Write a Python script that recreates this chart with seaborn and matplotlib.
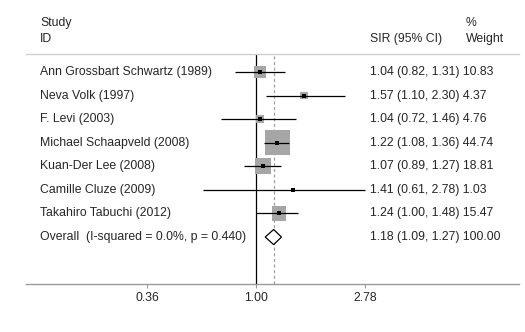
import numpy as np
import pandas as pd
import matplotlib
matplotlib.use("Agg")
import matplotlib.pyplot as plt
import matplotlib.transforms as mtransforms
import seaborn as sns

studies = ["Ann Grossbart Schwartz (1989)", "Neva Volk (1997)", "F. Levi (2003)",
           "Michael Schaapveld (2008)", "Kuan-Der Lee (2008)", "Camille Cluze (2009)",
           "Takahiro Tabuchi (2012)"]
sir = [1.04, 1.57, 1.04, 1.22, 1.07, 1.41, 1.24]
lower = [0.82, 1.10, 0.72, 1.08, 0.89, 0.61, 1.00]
upper = [1.31, 2.30, 1.46, 1.36, 1.27, 2.78, 1.48]
weights = [10.83, 4.37, 4.76, 44.74, 18.81, 1.03, 15.47]
overall_label = "Overall  (I-squared = 0.0%, p = 0.440)"
overall = [1.18, 1.09, 1.27]
overall_weight = "100.00"
xticks = [0.36, 1.00, 2.78]
xticklabels = ["0.36", "1.00", "2.78"]

sns.set_theme(style="white")
plt.rcParams["font.family"] = ["Liberation Sans", "DejaVu Sans"]
FS = 8.8

W, H = 525, 332
fig = plt.figure(figsize=(W / 100, H / 100), dpi=100)
ax = fig.add_axes([26 / W, 1 - 284 / H, (519 - 26) / W, (284 - 54) / H])
ax.set_xscale("log")
ax.set_xlim(0.1154, 11.81)
ax.set_ylim(8.99, -0.76)

df = pd.DataFrame({"study": studies, "sir": sir, "lo": lower, "hi": upper,
                   "w": weights, "row": np.arange(len(studies))})

# weight boxes (area proportional to weight)
sns.scatterplot(data=df, x="sir", y="row", marker="s", s=df["w"].to_numpy() * 7.25,
                color="#a6a6a6", linewidth=0, ax=ax, legend=False, zorder=2)
# CI lines
ax.hlines(df["row"], df["lo"], df["hi"], color="black", linewidth=0.9, zorder=3)
# point estimates
sns.scatterplot(data=df, x="sir", y="row", marker="s", s=6, color="black",
                linewidth=0, ax=ax, legend=False, zorder=4)

# overall diamond
orow = len(studies)
h = 0.32
ax.fill([overall[1], overall[0], overall[2], overall[0]],
        [orow, orow - h, orow, orow + h], facecolor="white", edgecolor="black",
        linewidth=0.9, zorder=5)

# reference lines
ax.axvline(1.0, color="black", linewidth=0.9, zorder=1)
ax.axvline(overall[0], color="#a0a0a0", linewidth=0.9, linestyle=(0, (2.5, 2)), zorder=1)

for s in ["left", "right"]:
    ax.spines[s].set_visible(False)
ax.spines["top"].set_color("#cfcfcf")
ax.spines["bottom"].set_color("#999999")
for s in ["top", "bottom"]:
    ax.spines[s].set_linewidth(1.0)
ax.set_xticks(xticks)
ax.set_xticklabels(xticklabels, fontsize=FS)
ax.xaxis.set_minor_locator(matplotlib.ticker.NullLocator())
ax.tick_params(axis="x", bottom=True, length=3, width=0.8, color="#999999", pad=3)
ax.set_yticks([])
ax.set_xlabel("")
ax.set_ylabel("")

tr = mtransforms.blended_transform_factory(fig.transFigure, ax.transData)
xl, xc, xw = 40 / W, 370 / W, 466 / W
for i, r in df.iterrows():
    ax.text(xl, r["row"], r["study"], transform=tr, fontsize=FS, va="center", ha="left")
    ax.text(xc, r["row"], f"{r['sir']:.2f} ({r['lo']:.2f}, {r['hi']:.2f}) {r['w']:.2f}",
            transform=tr, fontsize=FS, va="center", ha="left")
ax.text(xl, orow, overall_label, transform=tr, fontsize=FS, va="center", ha="left")
ax.text(xc, orow, f"{overall[0]:.2f} ({overall[1]:.2f}, {overall[2]:.2f}) {overall_weight}",
        transform=tr, fontsize=FS, va="center", ha="left")

fig.text(xl, 1 - 23 / H, "Study", fontsize=FS, va="center", ha="left")
fig.text(xl, 1 - 39 / H, "ID", fontsize=FS, va="center", ha="left")
fig.text(xc, 1 - 39 / H, "SIR (95% CI)", fontsize=FS, va="center", ha="left")
fig.text(xw, 1 - 23 / H, "%", fontsize=FS, va="center", ha="left")
fig.text(xw, 1 - 39 / H, "Weight", fontsize=FS, va="center", ha="left")

fig.savefig("out.png", dpi=100, facecolor="white")
